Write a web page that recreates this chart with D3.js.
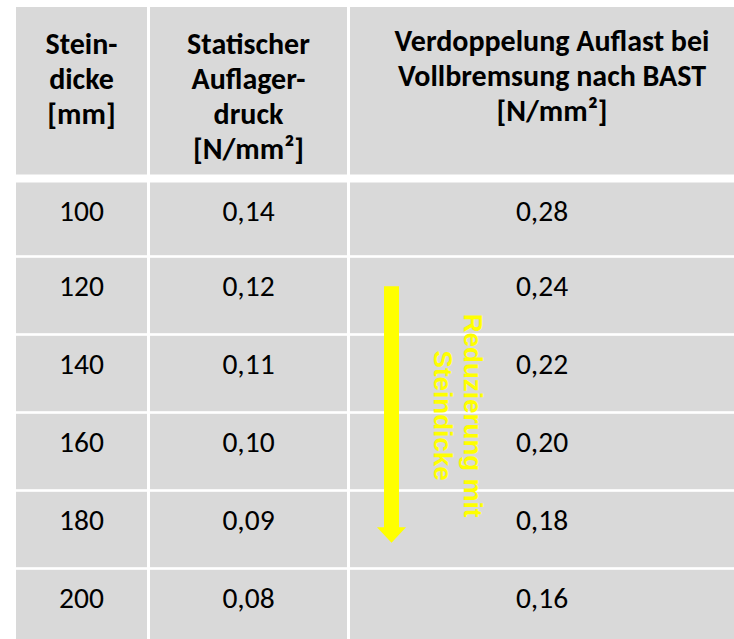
<!DOCTYPE html>
<html>
<head>
<meta charset="utf-8">
<script src="https://cdn.jsdelivr.net/npm/d3@7"></script>
<style>
  html, body { margin: 0; padding: 0; background: #ffffff; }
  svg { display: block; }
</style>
</head>
<body>
<svg id="chart" width="734" height="639"></svg>
<script>
// ---- data ----
const headerCol1 = ["Stein-", "dicke", "[mm]"];
const headerCol2 = ["Statischer", "Auflager-", "druck", "[N/mm²]"];
const headerCol3 = ["Verdoppelung Auflast bei", "Vollbremsung nach BAST", "[N/mm²]"];
const steindicke = [100, 120, 140, 160, 180, 200];
const statisch = [0.14, 0.12, 0.11, 0.10, 0.09, 0.08];
const verdoppelt = [0.28, 0.24, 0.22, 0.20, 0.18, 0.16];
const annotationLines = ["Reduzierung mit", "Steindicke"];

// ---- layout ----
const W = 734, H = 639;
const svg = d3.select("#chart");
const cellFill = "#d9d9d9";
const fontHead = "Carlito, Calibri, Lato, sans-serif";
const fontAnno = "'Liberation Sans', Arial, sans-serif";

const colEdges = [16, 147, 150, 347, 350, 740];
const cols = [
  {x0: colEdges[0], x1: colEdges[1]},
  {x0: colEdges[2], x1: colEdges[3]},
  {x0: colEdges[4], x1: colEdges[5]}
];
const headerCenters = [81.5, 248.5, 552];
const headerTop = 7, headerBottom = 174.5;
const rowGap = 2.6, headerGap = 8;
const y = d3.scaleLinear().domain([0, steindicke.length]).range([178.5, 178.5 + 78 * steindicke.length]);

const fmt = v => d3.format(".2f")(v).replace(".", ",");

// header cells
cols.forEach((c, i) => {
  svg.append("rect").attr("x", c.x0).attr("y", headerTop)
    .attr("width", c.x1 - c.x0).attr("height", headerBottom - headerTop)
    .attr("fill", cellFill);
});
function headerText(lines, col, firstBase, step) {
  svg.append("g").selectAll("text").data(lines).join("text")
    .attr("x", headerCenters[col])
    .attr("y", (d, i) => firstBase + i * step)
    .attr("text-anchor", "middle")
    .attr("font-family", fontHead)
    .attr("font-weight", "bold")
    .attr("font-size", 30)
    .attr("fill", "#000")
    .text(d => d);
}
headerText(headerCol1, 0, 54, 35);
headerText(headerCol2, 1, 54, 35);
headerText(headerCol3, 2, 51, 35);

// body rows
const rows = steindicke.map((s, i) => ({s, a: statisch[i], b: verdoppelt[i], i}));
const rowG = svg.append("g").selectAll("g").data(rows).join("g");
rowG.each(function(d) {
  const g = d3.select(this);
  const top = y(d.i) + (d.i === 0 ? headerGap / 2 : rowGap / 2);
  const bottom = y(d.i + 1) - rowGap / 2;
  const vals = [String(d.s), fmt(d.a), fmt(d.b)];
  cols.forEach((c, k) => {
    g.append("rect").attr("x", c.x0).attr("y", top)
      .attr("width", c.x1 - c.x0).attr("height", bottom - top)
      .attr("fill", cellFill);
    g.append("text")
      .attr("x", (c.x0 + Math.min(c.x1, W)) / 2)
      .attr("y", top + 38.5)
      .attr("text-anchor", "middle")
      .attr("font-family", fontHead)
      .attr("font-size", 29.5)
      .attr("fill", "#000")
      .text(vals[k]);
  });
});

// yellow arrow annotation
const ax = 391.5, shaftHalf = 7.5, headHalf = 14.5;
const aTop = y(1.38), aHeadTop = y(4.47), aTip = y(4.67);
const arrow = d3.path();
arrow.moveTo(ax - shaftHalf, aTop);
arrow.lineTo(ax + shaftHalf, aTop);
arrow.lineTo(ax + shaftHalf, aHeadTop);
arrow.lineTo(ax + headHalf, aHeadTop);
arrow.lineTo(ax, aTip);
arrow.lineTo(ax - headHalf, aHeadTop);
arrow.lineTo(ax - shaftHalf, aHeadTop);
arrow.closePath();
svg.append("path").attr("d", arrow.toString()).attr("fill", "#ffff00");

const annoG = svg.append("g").attr("transform", `translate(458,${y(3.04)}) rotate(90)`);
annoG.selectAll("text").data(annotationLines).join("text")
  .attr("x", 0)
  .attr("y", (d, i) => -15 + i * 30)
  .attr("text-anchor", "middle")
  .attr("dominant-baseline", "central")
  .attr("font-family", fontAnno)
  .attr("font-weight", "bold")
  .attr("font-size", 26)
  .attr("fill", "#ffff00")
  .text(d => d);
</script>
</body>
</html>
